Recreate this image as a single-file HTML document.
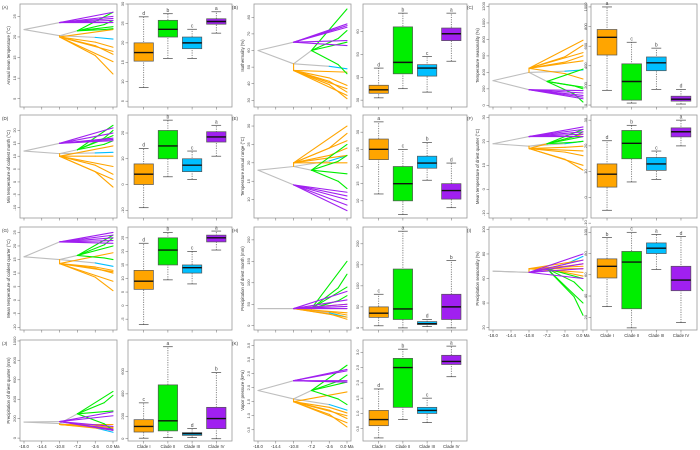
<!DOCTYPE html>
<html><head><meta charset="utf-8"><style>
html,body{margin:0;padding:0;background:#fff}
svg{display:block;font-family:"Liberation Sans",sans-serif}
</style></head><body>
<svg id="fig" width="700" height="450" viewBox="0 0 700 450" xmlns="http://www.w3.org/2000/svg"></svg>
<script>
const NS="http://www.w3.org/2000/svg";
const svg=document.getElementById('fig');
const clades=["Clade I","Clade II","Clade III","Clade IV"];
const cladeColors=["#FFA500","#00EE00","#00BFFF","#A020F0"];
const timeTicks=[-18,-14.4,-10.8,-7.2,-3.6,0];
const timeLabels=["-18.0","-14.4","-10.8","-7.2","-3.6","0.0 Ma"];
// panel meta
const panelIds=["A","B","C","D","E","F","G","H","I","J","K"];
const yTitles=["Annual mean temperature (°C)","Isothermality (%)","Temperature seasonality (%)","Min temperature of coldest month (°C)","Temperature annual range (°C)","Mean temperature of driest quarter (°C)","Mean temperature of coldest quarter (°C)","Precipitation of driest month (mm)","Precipitation seasonality (%)","Precipitation of driest quarter (mm)","Vapor pressure (kPa)"];
const treeRanges=[[3,28],[26,88],[-20,1230],[-14,26],[5,33],[-12,31],[-11,27],[-10,230],[18,102],[-30,1010],[0.1,3.7]];
const treeTicks=[[5,10,15,20,25],[30,40,50,60,70,80],[0,200,400,600,800,1000,1200],[-10,-5,0,5,10,15,20],[10,15,20,25,30],[-10,0,10,20,30],[-10,-5,0,5,10,15,20,25],[0,50,100,150,200],[20,40,60,80,100],[0,200,400,600,800,1000],[0.5,1.0,1.5,2.0,2.5,3.0,3.5]];
const boxRanges=[[3.5,30],[27,72],[-20,1030],[-13,27],[5,35],[-8,32],[-9,29],[-5,240],[8,105],[-20,880],[0.1,3.4]];
const boxTicks=[[5,10,15,20,25,30],[30,40,50,60],[0,200,400,600,800,1000],[-10,0,10,20],[10,15,20,25,30],[-10,0,10,20,30],[-5,0,5,10,15,20,25],[0,50,100,150,200],[20,40,60,80,100],[0,200,400,600],[0.5,1.0,1.5,2.0,2.5,3.0]];
// box stats [lo,q1,med,q3,hi] per clade
const cladeIStats=[[8.5,15.3,17.5,20,26.7],[31,33,34.5,36.5,44],[150,510,690,770,1000],[-9,0,4,8,14],[12,22,25,28,33],[-5,4,9,13,22],[-7,6,9,13,23],[5,25,35,50,80],[30,57,68,75,95],[5,60,110,170,320],[0.2,0.6,0.8,1.1,1.8]];
const cladeIIStats=[[16,21.5,23.5,25.8,27.5],[35,41.5,46.5,62,68],[20,50,240,420,640],[3,10,15,21,25],[6,10,15,20,25],[6,15,21,26,28],[9.5,15,20.5,25,27],[0,20,45,140,230],[10,28,72,82,100],[10,70,160,480,820],[0.8,1.2,2.5,2.8,3.1]];
const cladeIIIStats=[[16,18.5,20,21.5,23.5],[33.5,40.5,44,45.5,49],[160,350,430,490,580],[2,5,7.5,10,13],[16,19.5,21,23,27],[7,10.5,13,15.5,18],[8,12,14,15,20],[3,8,10,15,20],[65,80,85,90,98],[10,30,45,55,90],[0.7,1.0,1.1,1.2,1.5]];
const cladeIVStats=[[22.5,24.8,25.5,26.2,28],[47,56,59,61.5,68],[10,40,60,90,160],[11,16.5,18.5,20.5,23],[8,10.5,13,15,21],[20,23.5,25.5,27,30],[20.5,23.5,25,26,27.5],[0,20,50,80,160],[15,45,55,68,96],[0,90,180,280,590],[2.2,2.6,2.7,2.9,3.2]];
const letters=[["d","b","c","a"],["d","b","c","a"],["a","c","b","d"],["d","b","c","a"],["a","c","b","d"],["d","b","c","a"],["d","b","c","a"],["c","a","d","b"],["b","c","a","d"],["c","a","d","b"],["d","b","c","a"]];
// tree values
const rootVals=[21.8,60,300,12,18,19,16,40,66,165,1.9];
const purpleStart=[23.5,65,190,15,14,22,21.5,40,65,170,2.25];
const greyNode=[20.3,52,400,11,19,18,15,40,65,150,1.6];
const greenNode=[21.5,60,290,12.5,18,19,16.5,40,68,250,1.9];
const orangeNode=[20,48,450,10,20,17,13.5,40,68,140,1.5];
const blueEnd=[19.5,49,430,11.5,22,20,12.5,20,78,60,1.2];
const purpleEnds=[[26,25,24.5,24,23.5],[75,76,74,66,63],[180,150,120,100,80],[21,19,17,16.5,16],[12,11,10,8.5,7],[26,25,24,23,22],[25,24,23,22,21],[80,60,50,45,40],[80,75,72,68,60],[270,230,120,90,80],[2.65,2.6,2.25,2.2,2.2]];
const greenEnds=[[26,24,22.5,22],[85,72,65,46],[220,200,440,40],[22,20,18,16],[25,22,17,13],[25,24,22,20],[24,23,20,15],[150,120,90,70],[60,50,40,30],[480,440,280,80],[2.8,2.45,2.2,1.4]];
const orangeEnds=[[21.8,17.5,16.5,15.8,14,11],[47,39,37,35,33,31],[790,730,640,600,540,320],[14,10,6,3,1,-2],[30,28,26,24,22,20],[23,18,16,14,10,8],[17.5,11,10.5,10,7,3.5],[50,40,30,25,20,15],[75,72,70,68,65,62],[140,110,100,90,85,80],[1.85,1.1,1.0,0.9,0.75,0.6]];
// layout
const colTree=[[20,117],[254,351],[489,587]];
const colBox=[[128,232],[363,467],[591,697]];
const rowY=[[4,107],[115,218],[227,330],[340,441]];
const panelPos=[[0,0],[0,1],[0,2],[1,0],[1,1],[1,2],[2,0],[2,1],[2,2],[3,0],[3,1]];
const bottomPanels=["G","H","I","J","K"];
const xLabelPanels=["I","J","K"];

function mk(tag,attrs,parent){const e=document.createElementNS(NS,tag);for(const k in attrs)e.setAttribute(k,attrs[k]);(parent||svg).appendChild(e);return e;}
function txt(s,attrs,parent){const e=mk('text',attrs,parent);e.textContent=s;return e;}
function fmt(v){return Math.abs(v)<10&&String(v).indexOf('.')<0&&treeTicksDecimal?v.toFixed(1):String(v);}
let treeTicksDecimal=false;

panelIds.forEach((id,i)=>{
  const [r,c]=panelPos[i];
  const [tx0,tx1]=colTree[c], [bx0,bx1]=colBox[c], [y0,y1]=rowY[r];
  const g=mk('g',{});
  
  
  const dec=(id==="K");
  const f=v=>dec?v.toFixed(1):String(v);
  // ---- tree panel
  const tr=treeRanges[i];
  const xs=t=>tx0+4+(t+18)/18*(tx1-tx0-8);
  const ysT=v=>y1-(v-tr[0])/(tr[1]-tr[0])*(y1-y0);
  const tf=mk('rect',{x:tx0,y:y0,width:tx1-tx0,height:y1-y0,fill:'none',stroke:'#999','stroke-width':0.8},g);
  
  
  const pl=txt('('+id+')',{x:c===0?2:tx0-22,y:y0+5,'font-size':4.5,fill:'#333'},g);
  
  
  treeTicks[i].forEach(v=>{
    const y=ysT(v);
    mk('line',{x1:tx0-2.5,x2:tx0,y1:y,y2:y,stroke:'#666','stroke-width':0.5},g);
    const t=txt(f(v),{x:tx0-4,y:y,'font-size':4,fill:'#444','text-anchor':'middle',transform:`rotate(-90 ${tx0-4} ${y})`},g);
    
    
  });
  const yt=txt(yTitles[i],{x:tx0-10,y:(y0+y1)/2,'font-size':4.3,fill:'#333','text-anchor':'middle',transform:`rotate(-90 ${tx0-10} ${(y0+y1)/2})`},g);
  
  
  timeTicks.forEach((t,k)=>{
    const x=xs(t);
    mk('line',{x1:x,x2:x,y1:y1,y2:y1+2.5,stroke:'#666','stroke-width':0.5},g);
    if(xLabelPanels.includes(id)){
      const l=txt(timeLabels[k],{x:x,y:y1+7,'font-size':4.3,fill:'#333','text-anchor':'middle'},g);
      
      
    }
  });
  const seg=(t0,v0,t1,v1,col,w)=>{const l=mk('line',{x1:xs(t0),y1:ysT(v0),x2:xs(t1),y2:ysT(v1),stroke:col,'stroke-width':w||1.1,'stroke-linecap':'round'},g);return l;};
  const grey="#BEBEBE";
  seg(-18,rootVals[i],-10.8,purpleStart[i],grey);
  seg(-18,rootVals[i],-10.8,greyNode[i],grey);
  seg(-10.8,greyNode[i],-7.2,greenNode[i],grey);
  seg(-10.8,greyNode[i],-3.6,(greyNode[i]+blueEnd[i])/2,grey);
  seg(-3.6,(greyNode[i]+blueEnd[i])/2,0,blueEnd[i],cladeColors[2]);
  orangeEnds[i].forEach((v,k)=>{
    if(k%2===0) seg(-10.8,orangeNode[i],0,v,cladeColors[0]);
    else {const m=(orangeNode[i]+v)/2;seg(-10.8,orangeNode[i],-3.6,m,cladeColors[0]);seg(-3.6,m,0,v,cladeColors[0]);}
  });
  seg(-10.8,greyNode[i],-10.8,orangeNode[i],cladeColors[0]);
  greenEnds[i].forEach((v,k)=>{
    if(k%2===0) seg(-7.2,greenNode[i],0,v,cladeColors[1]);
    else {const m=(greenNode[i]*0.4+v*0.6);seg(-7.2,greenNode[i],-1.8,m,cladeColors[1]);seg(-1.8,m,0,v,cladeColors[1]);}
  });
  purpleEnds[i].forEach(v=>seg(-10.8,purpleStart[i],0,v,cladeColors[3]));
  // ---- box panel
  const br=boxRanges[i];
  const ysB=v=>y1-(v-br[0])/(br[1]-br[0])*(y1-y0);
  const bf=mk('rect',{x:bx0,y:y0,width:bx1-bx0,height:y1-y0,fill:'none',stroke:'#999','stroke-width':0.8},g);
  
  
  boxTicks[i].forEach(v=>{
    const y=ysB(v);
    mk('line',{x1:bx0-2.5,x2:bx0,y1:y,y2:y,stroke:'#666','stroke-width':0.5},g);
    const t=txt(f(v),{x:bx0-4,y:y,'font-size':4,fill:'#444','text-anchor':'middle',transform:`rotate(-90 ${bx0-4} ${y})`},g);
    
    
  });
  const stats=[cladeIStats[i],cladeIIStats[i],cladeIIIStats[i],cladeIVStats[i]];
  const slot=(bx1-bx0)/4.3, bw=slot*0.8;
  stats.forEach((s,k)=>{
    const cx=bx0+slot*(k+0.65)+ (bx1-bx0-slot*4.3)/2 + slot*0.0;
    const gb=mk('g',{},g);
    
    
    mk('line',{x1:cx,x2:cx,y1:ysB(s[0]),y2:ysB(s[4]),stroke:'#555','stroke-width':0.7,'stroke-dasharray':'1.2,1.2'},gb);
    mk('line',{x1:cx-bw/4,x2:cx+bw/4,y1:ysB(s[0]),y2:ysB(s[0]),stroke:'#444','stroke-width':0.7},gb);
    mk('line',{x1:cx-bw/4,x2:cx+bw/4,y1:ysB(s[4]),y2:ysB(s[4]),stroke:'#444','stroke-width':0.7},gb);
    mk('rect',{x:cx-bw/2,y:ysB(s[3]),width:bw,height:ysB(s[1])-ysB(s[3]),fill:cladeColors[k],stroke:'#555','stroke-width':0.7},gb);
    mk('line',{x1:cx-bw/2,x2:cx+bw/2,y1:ysB(s[2]),y2:ysB(s[2]),stroke:'#111','stroke-width':1.4},gb);
    const lt=txt(letters[i][k],{x:cx,y:ysB(s[4])-1.8,'font-size':5,fill:'#444','text-anchor':'middle'},gb);
    
    
    mk('line',{x1:cx,x2:cx,y1:y1,y2:y1+2.5,stroke:'#666','stroke-width':0.5},g);
    if(xLabelPanels.includes(id)){
      const cl=txt(clades[k],{x:cx,y:y1+7,'font-size':4.3,fill:'#333','text-anchor':'middle'},g);
      
      
    }
  });
});
</script>
</body></html>
